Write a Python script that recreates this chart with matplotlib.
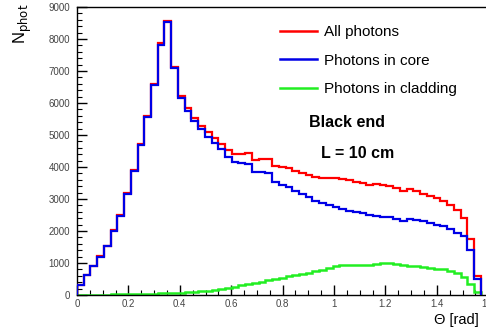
import numpy as np
import matplotlib
matplotlib.use("Agg")
import matplotlib.pyplot as plt
from matplotlib.ticker import MultipleLocator, FuncFormatter
from matplotlib.lines import Line2D

# ---- data ----
n_bins = 60
theta_min, theta_max = 0.0, np.pi / 2

core = [300, 620, 900, 1190, 1530, 2000, 2470, 3150, 3870, 4690,
        5560, 6560, 7810, 8520, 7080, 6150, 5750, 5450, 5180, 4950,
        4750, 4550, 4300, 4150, 4120, 4100, 3850, 3840, 3800, 3530,
        3450, 3380, 3250, 3150, 3050, 2950, 2870, 2800, 2750, 2680,
        2630, 2600, 2560, 2500, 2480, 2440, 2430, 2380, 2320, 2380,
        2340, 2300, 2250, 2200, 2150, 2050, 1950, 1850, 1400, 500]

cladding = [5, 10, 10, 15, 15, 20, 20, 25, 30, 30,
            35, 40, 50, 55, 60, 70, 80, 95, 110, 130,
            150, 180, 220, 260, 300, 340, 380, 420, 460, 500,
            540, 580, 620, 660, 700, 740, 790, 850, 900, 930,
            950, 940, 930, 950, 980, 1000, 990, 960, 930, 920,
            900, 870, 850, 820, 800, 760, 700, 560, 350, 80]

all_ph = [305, 630, 910, 1205, 1545, 2020, 2490, 3175, 3900, 4720,
          5595, 6600, 7860, 8570, 7140, 6220, 5830, 5545, 5290, 5080,
          4900, 4730, 4520, 4410, 4420, 4440, 4230, 4260, 4260, 4030,
          3990, 3960, 3870, 3810, 3750, 3690, 3660, 3650, 3650, 3610,
          3580, 3540, 3490, 3450, 3460, 3440, 3420, 3340, 3250, 3300,
          3240, 3170, 3100, 3020, 2950, 2810, 2650, 2410, 1750, 580]

labels = ["All photons", "Photons in core", "Photons in cladding"]
colors = ["#ff0000", "#0000e6", "#22ee22"]

# ---- figure ----
W, H = 486, 332
plt.rcParams['font.family'] = ['Liberation Sans', 'DejaVu Sans']
fig = plt.figure(figsize=(W / 100, H / 100), dpi=100)

x0, y_top, y_bot = 77, 7, 295
px_per_rad = 257
ax_w = 1.6 * px_per_rad
ax_h = y_bot - y_top
ax = fig.add_axes([x0 / W, (H - y_bot) / H, ax_w / W, ax_h / H])

edges = np.linspace(theta_min, theta_max, n_bins + 1)

ax.stairs(cladding, edges, baseline=0, color=colors[2], lw=1.8, zorder=2)
ax.stairs(all_ph, edges, baseline=0, color=colors[0], lw=1.6, zorder=3)
ax.stairs(core, edges, baseline=0, color=colors[1], lw=1.6, zorder=4)

ax.set_xlim(0, 1.6)
ax.set_ylim(0, 9000)

ax.xaxis.set_major_locator(MultipleLocator(0.2))
ax.xaxis.set_minor_locator(MultipleLocator(0.05))
ax.yaxis.set_major_locator(MultipleLocator(1000))
ax.yaxis.set_minor_locator(MultipleLocator(200))
ax.xaxis.set_major_formatter(FuncFormatter(
    lambda v, p: "0" if abs(v) < 1e-9 else ("%g" % round(v, 2))))
ax.yaxis.set_major_formatter(FuncFormatter(lambda v, p: "%d" % v))

ax.tick_params(axis='both', which='both', direction='in', top=False, right=False,
               labelsize=7, labelcolor='#444444', colors='black')
ax.tick_params(axis='both', which='major', length=7, width=1)
ax.tick_params(axis='both', which='minor', length=3.5, width=0.8)
ax.tick_params(axis='y', pad=5)
ax.tick_params(axis='x', pad=3)
for s in ax.spines.values():
    s.set_linewidth(1.0)

leg_handles = [Line2D([0], [0], color=c, lw=1.8) for c in colors]
fs_leg = 11
ax.legend(leg_handles, labels, loc='upper left',
          bbox_to_anchor=((280 - x0) / ax_w, 1 - (25 - y_top) / ax_h),
          frameon=False, fontsize=fs_leg, handlelength=2.4, handletextpad=0.5,
          labelspacing=0.95, borderaxespad=0, borderpad=0)

fig.text(347 / W, 1 - 123 / H, "Black end", fontsize=11.5, fontweight='bold',
         ha='center', va='center')
fig.text(358 / W, 1 - 153 / H, "L = 10 cm", fontsize=11.5, fontweight='bold',
         ha='center', va='center')

fig.text(23 / W, 1 - 4 / H, r"N$_{\rm phot}$", fontsize=12, rotation=90,
         ha='center', va='top')
fig.text(434 / W, 1 - 320 / H, "\u0398 [rad]", fontsize=10.5, ha='left', va='center')

fig.savefig("out.png", dpi=100)
